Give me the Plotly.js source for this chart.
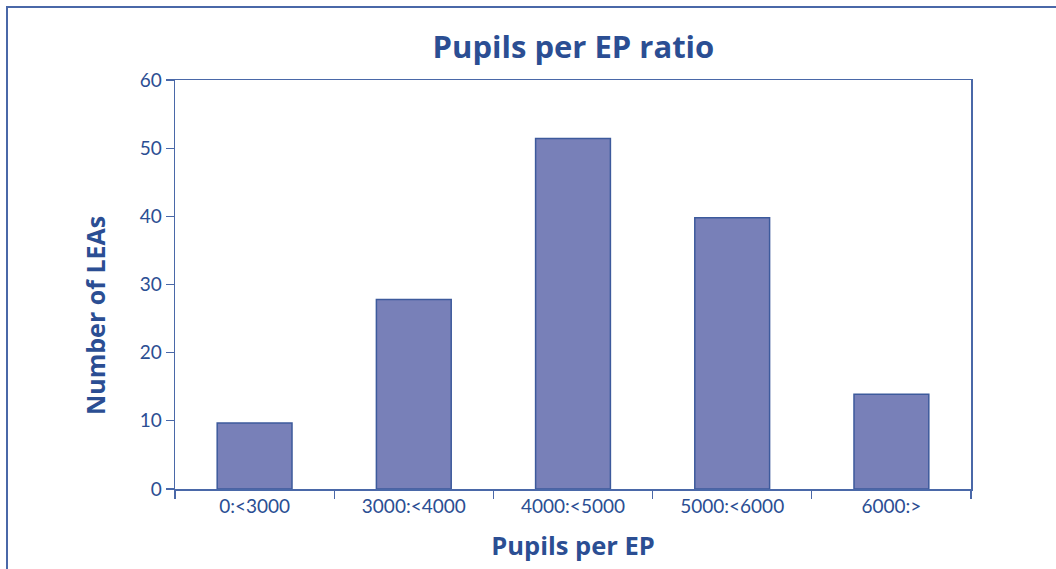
<!DOCTYPE html>
<html>
<head>
<meta charset="utf-8">
<script src="https://cdn.plot.ly/plotly-3.0.1.min.js"></script>
<style>html,body{margin:0;padding:0;background:#fff;}#chart{width:1056px;height:569px;}</style>
</head>
<body>
<div id="chart"></div>
<script>
const categories = ["0:<3000", "3000:<4000", "4000:<5000", "5000:<6000", "6000:>"];
const lea_counts = [9.7, 27.8, 51.4, 39.8, 13.9];
const y_ticks = [0, 10, 20, 30, 40, 50, 60];

const textColor = "#2b4e93";
const axisColor = "#4a68a8";
const fontFam = "Lato, 'Open Sans', sans-serif";
const boldFam = "'Open Sans', Lato, sans-serif";

const trace = {
  type: "bar",
  x: categories,
  y: lea_counts,
  marker: {color: "#7880b8", line: {color: "#3d5a9c", width: 1.5}},
  hoverinfo: "x+y"
};

const layout = {
  width: 1056, height: 569,
  margin: {l: 175, r: 85, t: 80, b: 80},
  paper_bgcolor: "#ffffff",
  plot_bgcolor: "#ffffff",
  bargap: 0.53,
  showlegend: false,
  font: {family: fontFam, color: textColor},
  title: {text: "Pupils per EP ratio", x: 0.543, xanchor: "center", y: 0.918, yanchor: "middle",
          font: {family: boldFam, size: 31, color: textColor, weight: "bold"}},
  xaxis: {
    type: "category",
    showline: true, linecolor: axisColor, linewidth: 1.5, mirror: true,
    ticks: "outside", tickson: "boundaries", ticklen: 8, tickcolor: axisColor, tickwidth: 1.2,
    tickfont: {size: 19, color: textColor, family: fontFam},
    showgrid: false, zeroline: false,
    title: {text: "Pupils per EP", font: {size: 25.5, color: textColor, family: boldFam, weight: "bold"}, standoff: 21}
  },
  yaxis: {
    range: [0, 60],
    tickvals: y_ticks,
    showline: true, linecolor: axisColor, linewidth: 1.5, mirror: true,
    ticks: "outside", ticklen: 8, tickcolor: axisColor, tickwidth: 1.2,
    tickfont: {size: 19, color: textColor, family: fontFam},
    showgrid: false, zeroline: false
  },
  annotations: [{
    text: "Number of LEAs", textangle: -90, showarrow: false,
    xref: "paper", yref: "paper", x: (95 - 175) / 796, y: (489 - 316) / 409,
    xanchor: "center", yanchor: "middle",
    font: {size: 25, color: textColor, family: boldFam, weight: "bold"}
  }],
  shapes: [{
    type: "rect", xref: "paper", yref: "paper",
    x0: (7 - 175) / 796, x1: 1.2, y0: -0.4, y1: 1 + (80 - 7) / 409,
    line: {color: "#4a68a8", width: 2}, fillcolor: "rgba(0,0,0,0)", layer: "below"
  }]
};

Plotly.newPlot("chart", [trace], layout, {displayModeBar: false, staticPlot: true});
</script>
</body>
</html>
